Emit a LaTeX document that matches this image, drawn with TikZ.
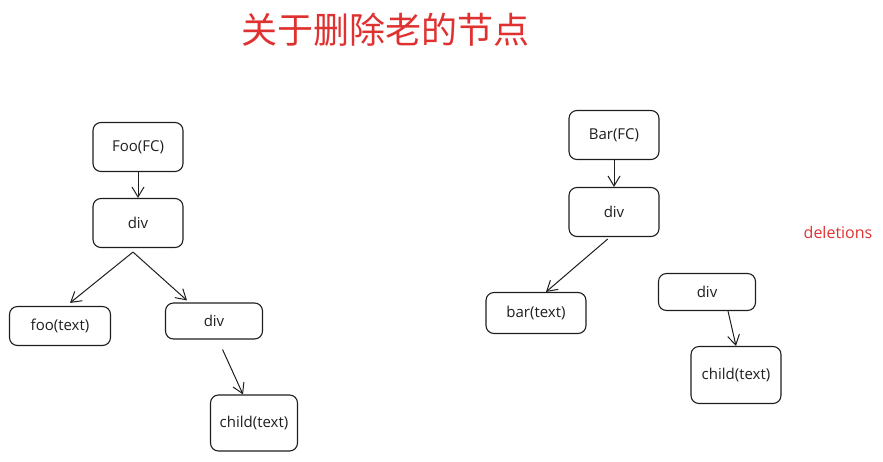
\documentclass[tikz,border=0pt]{standalone}
\usepackage{fontspec}
\setmainfont{Open Sans}
\newfontfamily\cjk{Noto Sans CJK SC}
\usetikzlibrary{arrows.meta}
\definecolor{vermelho}{HTML}{E03131}
\definecolor{tinta}{HTML}{1E1E1E}

\begin{document}
\begin{tikzpicture}[x=1pt,y=-1pt,
  caixa/.style={draw=tinta, line width=1.1pt, rounded corners=8pt, font=\fontsize{15}{17}\selectfont, text=tinta},
  seta/.style={-{Straight Barb[length=10pt,width=12pt]}, draw=tinta, line width=1pt}]
\useasboundingbox (0,0) rectangle (883,461);
\node[text=vermelho, font=\cjk\fontsize{36}{42}\selectfont] (titulo) at (385,30) {关于删除老的节点};
% arvore antiga
\node[caixa, minimum width=90pt, minimum height=49pt] (foo) at (138,147) {Foo(FC)};
\node[caixa, minimum width=90pt, minimum height=49pt] (diva) at (138,223) {div};
\node[caixa, minimum width=101pt, minimum height=39pt] (footxt) at (60,326) {foo(text)};
\node[caixa, minimum width=97pt, minimum height=36pt] (divb) at (214,321) {div};
\node[caixa, minimum width=87pt, minimum height=56pt] (filhoa) at (254,423) {child(text)};
\draw[seta] (foo.south) -- (diva.north);
\coordinate (raiz) at ([xshift=-5pt,yshift=-4pt]diva.south);
\draw[seta] (raiz) -- ([xshift=10pt,yshift=3pt]footxt.north);
\draw[seta] (raiz) -- ([xshift=-27pt,yshift=2pt]divb.north);
\draw[seta, shorten <=11pt] ([xshift=4pt]divb.south) -- ([xshift=-11pt]filhoa.north);
% arvore nova
\node[caixa, minimum width=90pt, minimum height=49pt] (bar) at (614,135) {Bar(FC)};
\node[caixa, minimum width=90pt, minimum height=49pt] (divc) at (614,212) {div};
\node[caixa, minimum width=100pt, minimum height=41pt] (bartxt) at (536,313) {bar(text)};
\node[caixa, minimum width=97pt, minimum height=37pt] (divd) at (707,292) {div};
\node[caixa, minimum width=90pt, minimum height=57pt] (filhob) at (736,375) {child(text)};
\draw[seta] (bar.south) -- (divc.north);
\draw[seta, shorten <=3pt] ([xshift=-4pt]divc.south) -- ([xshift=10pt]bartxt.north);
\draw[seta] ([xshift=21pt]divd.south) -- (filhob.north);
\node[text=vermelho, font=\fontsize{16}{18}\selectfont] (apagados) at (838,232) {deletions};
\end{tikzpicture}
\end{document}
